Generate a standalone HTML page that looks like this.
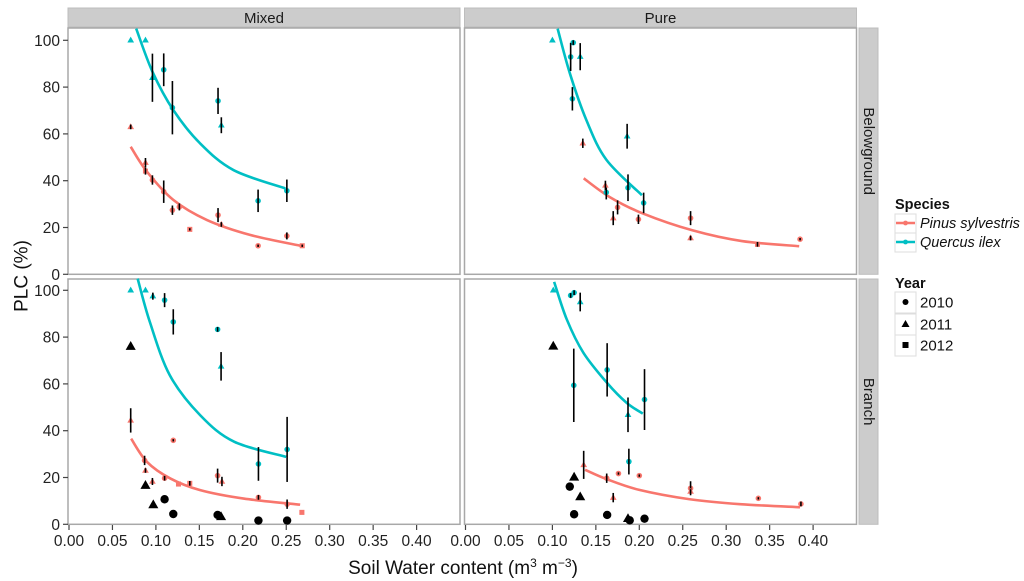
<!DOCTYPE html>
<html><head><meta charset="utf-8"><style>
body{margin:0;background:#fff;}
svg{display:block;font-family:"Liberation Sans",sans-serif;}
</style></head><body>
<svg id="chart" width="1024" height="581" viewBox="0 0 1024 581"></svg>
<script>
// ---- data ----
const panelNames = ["mixed-belowground","pure-belowground","mixed-branch","pure-branch"];
const colLabels = ["Mixed","Pure"];
const rowLabels = ["Belowground","Branch"];
const yTicks = [0,20,40,60,80,100];
const xTicks = [0,0.05,0.10,0.15,0.20,0.25,0.30,0.35,0.40];
const xTickLabels = ["0.00","0.05","0.10","0.15","0.20","0.25","0.30","0.35","0.40"];
// points: [swc, plc, err, year, species] species: P=Pinus, Q=Quercus, K=black
const mbPoints = [
 [0.071,100,0,2011,"Q"],[0.088,100,0,2011,"Q"],[0.096,84,10.3,2011,"Q"],[0.109,87.4,7,2010,"Q"],[0.119,71.2,11.4,2010,"Q"],
 [0.1715,74.1,5.6,2010,"Q"],[0.1753,63.7,3.4,2011,"Q"],[0.2176,31.4,4.8,2010,"Q"],[0.2507,35.7,4.8,2010,"Q"],
 [0.071,63,1,2011,"P"],[0.088,47.7,2,2011,"P"],[0.088,44.1,1.5,2012,"P"],[0.096,40.3,2,2010,"P"],[0.109,35.3,4.8,2010,"P"],
 [0.119,27.4,2,2010,"P"],[0.127,28.8,1.5,2010,"P"],[0.139,19.2,0.5,2012,"P"],[0.1715,25.3,3,2010,"P"],[0.1753,21.3,1,2011,"P"],
 [0.2176,12.2,0.5,2010,"P"],[0.2507,16.4,1.5,2010,"P"],[0.2684,12.2,0.5,2012,"P"]
];
const pbPoints = [
 [0.100,100,0,2011,"Q"],[0.124,99,1,2010,"Q"],[0.121,92.9,6,2010,"Q"],[0.132,93,5.8,2011,"Q"],[0.123,75,5,2010,"Q"],
 [0.186,59,5.3,2011,"Q"],[0.162,35,3,2010,"Q"],[0.187,37,5.7,2010,"Q"],[0.205,30.5,4.4,2010,"Q"],
 [0.135,56,2,2011,"P"],[0.161,38,2,2011,"P"],[0.175,28.6,3,2010,"P"],[0.170,24,3,2011,"P"],[0.199,23.5,2,2010,"P"],
 [0.259,24,3,2010,"P"],[0.259,15.5,1,2011,"P"],[0.336,12.8,1,2012,"P"],[0.385,15,0.5,2010,"P"]
];
const mrPoints = [
 [0.071,100,0,2011,"Q"],[0.088,100,0,2011,"Q"],[0.0965,97.5,1.5,2011,"Q"],[0.110,95.8,3,2010,"Q"],[0.120,86.5,5.4,2010,"Q"],
 [0.171,83.3,1,2010,"Q"],[0.175,67.5,6.1,2011,"Q"],[0.218,25.8,7.2,2010,"Q"],[0.251,32,13.9,2010,"Q"],
 [0.071,44.4,5.2,2011,"P"],[0.087,27.3,2,2010,"P"],[0.088,23,1,2011,"P"],[0.096,18.3,1.5,2011,"P"],[0.110,19.7,1,2010,"P"],
 [0.120,35.9,0.5,2010,"P"],[0.126,17.2,0,2012,"P"],[0.139,17.5,1,2012,"P"],[0.171,20.8,3,2010,"P"],[0.176,18.3,2,2011,"P"],
 [0.218,11.5,1,2010,"P"],[0.251,8.6,2,2010,"P"],[0.268,5.1,0,2012,"P"],
 [0.071,76,0,2011,"K"],[0.088,16.6,0,2011,"K"],[0.097,8.3,0,2011,"K"],[0.110,10.7,0,2010,"K"],[0.120,4.4,0,2010,"K"],
 [0.171,4,0,2010,"K"],[0.175,3.2,0,2011,"K"],[0.218,1.6,0,2010,"K"],[0.251,1.6,0,2010,"K"]
];
const prPoints = [
 [0.101,100,0,2011,"Q"],[0.121,97.8,1,2010,"Q"],[0.125,99,1,2010,"Q"],[0.132,95,4,2011,"Q"],[0.1246,59.4,15.7,2010,"Q"],
 [0.163,66,11.4,2010,"Q"],[0.187,46.8,7.4,2011,"Q"],[0.206,53.3,13,2010,"Q"],[0.188,26.8,5.5,2010,"Q"],
 [0.136,25.4,6,2011,"P"],[0.1625,19.7,2,2010,"P"],[0.176,21.7,0.5,2010,"P"],[0.170,11.4,2,2011,"P"],[0.200,20.8,0.5,2010,"P"],
 [0.259,15.4,3,2010,"P"],[0.259,14,1,2011,"P"],[0.337,11.1,0.5,2010,"P"],[0.386,8.7,1,2010,"P"],
 [0.101,76.1,0,2011,"K"],[0.125,20.1,0,2011,"K"],[0.120,16.1,0,2010,"K"],[0.132,11.7,0,2011,"K"],[0.125,4.3,0,2010,"K"],
 [0.163,4,0,2010,"K"],[0.187,2.4,0,2011,"K"],[0.189,1.7,0,2010,"K"],[0.206,2.4,0,2010,"K"]
];
// fitted curves
const mbQx=[0.0773,0.096,0.12,0.151,0.1895,0.249], mbQy=[105,86.6,70.2,55.9,44.5,36.7];
const mbPx=[0.071,0.0896,0.12,0.1588,0.2088,0.268], mbPy=[54.5,43.9,31.8,23.2,16.8,12.1];
const pbQx=[0.106,0.120,0.139,0.162,0.203], pbQy=[105,86,66,49,33.8];
const pbPx=[0.136,0.166,0.204,0.261,0.318,0.384], pbPy=[41,33,26,18.8,14.2,12];
const mrQx=[0.079,0.093,0.116,0.151,0.19,0.25], mrQy=[105,86.5,63.7,46.6,35.3,28.8];
const mrPx=[0.0715,0.0896,0.1165,0.151,0.201,0.266], mrPy=[36.6,26.7,19.6,14.6,11,8.4];
const prQx=[0.102,0.1165,0.1357,0.163,0.1855,0.204], prQy=[103.6,87.6,73.3,60.4,51.9,47.3];
const prPx=[0.1376,0.1625,0.2,0.258,0.316,0.385], prPy=[23.3,19.3,14.7,10.7,8.6,7.3];

const panelPoints=[mbPoints,pbPoints,mrPoints,prPoints];
const panelCurves=[[[mbPx,mbPy],[mbQx,mbQy]],[[pbPx,pbPy],[pbQx,pbQy]],[[mrPx,mrPy],[mrQx,mrQy]],[[prPx,prPy],[prQx,prQy]]];

// ---- layout ----
const NS="http://www.w3.org/2000/svg";
const svg=document.getElementById("chart");
const RED="#F8766D", CYAN="#00BFC4";
function mk(tag,attrs,parent,text){const e=document.createElementNS(NS,tag);for(const k in attrs)e.setAttribute(k,attrs[k]);if(text!==undefined)e.textContent=text;(parent||svg).appendChild(e);return e;}
const colX=[69,465.5], colW=392, rowTop=[28,279], rowBot=[274.3,524.3];
const XS=869;
function xScale(c,v){return colX[c]+v*XS;}
function yScale(r,v){return rowBot[r]-v*2.34;}
function smooth(pts){let d="M"+pts[0][0]+","+pts[0][1];for(let i=0;i<pts.length-1;i++){const p0=pts[Math.max(0,i-1)],p1=pts[i],p2=pts[i+1],p3=pts[Math.min(pts.length-1,i+2)];
 const c1=[p1[0]+(p2[0]-p0[0])/6,p1[1]+(p2[1]-p0[1])/6],c2=[p2[0]-(p3[0]-p1[0])/6,p2[1]-(p3[1]-p1[1])/6];
 d+=" C"+c1[0]+","+c1[1]+" "+c2[0]+","+c2[1]+" "+p2[0]+","+p2[1];}return d;}

// strips
for(let c=0;c<2;c++){
 const s=mk("rect",{x:colX[c]-1,y:8,width:colW,height:19,fill:"#cccccc",stroke:"#bdbdbd"});
 
 
 const t=mk("text",{x:colX[c]-1+colW/2,y:23,"text-anchor":"middle","font-size":"15",fill:"#1a1a1a"},null,colLabels[c]);
 
 
}
for(let r=0;r<2;r++){
 const s=mk("rect",{x:859,y:rowTop[r],width:19,height:rowBot[r]-rowTop[r],fill:"#cccccc",stroke:"#bdbdbd"});
 
 
 const cy=(rowTop[r]+rowBot[r])/2;
 const t=mk("text",{x:868.5,y:cy,"text-anchor":"middle","font-size":"15",fill:"#1a1a1a",transform:"rotate(90 868.5 "+cy+")","dominant-baseline":"central"},null,rowLabels[r]);
 
 
}

for(let p=0;p<4;p++){
 const c=p%2,r=Math.floor(p/2);
 const g=mk("g",{});
 
 
 const bg=mk("rect",{x:colX[c]-1,y:rowTop[r],width:colW,height:rowBot[r]-rowTop[r],fill:"#fff",stroke:"#a8a8a8","stroke-width":1.5},g);
 
 
 // curves
 const cols=[RED,CYAN];
 panelCurves[p].forEach((cv,i)=>{
  const pts=cv[0].map((x,k)=>[xScale(c,x),yScale(r,cv[1][k])]);
  const path=mk("path",{d:smooth(pts),fill:"none",stroke:cols[i],"stroke-width":2.6},g);
  
  
 });
 // points
 panelPoints[p].forEach(pt=>{
  const [x,y,e,yr,sp]=pt; const px=xScale(c,x),py=yScale(r,y);
  const col=sp==="P"?RED:sp==="Q"?CYAN:"#000"; const s=sp==="K"?4.2:2.8;
  let m;
  if(yr===2010) m=mk("circle",{cx:px,cy:py,r:s,fill:col},g);
  else if(yr===2011) m=mk("polygon",{points:`${px},${py-s*1.3} ${px-s*1.2},${py+s*0.8} ${px+s*1.2},${py+s*0.8}`,fill:col},g);
  else m=mk("rect",{x:px-s*0.9,y:py-s*0.9,width:s*1.8,height:s*1.8,fill:col},g);
  
  
  if(e>0){
   const eb=mk("line",{x1:px,x2:px,y1:yScale(r,y-e),y2:yScale(r,y+e),stroke:"#000","stroke-width":1.6},g);
   
   
  }
 });
}
// y axes
for(let r=0;r<2;r++){
 yTicks.forEach(v=>{
  const y=yScale(r,v);
  const tk=mk("line",{x1:63,x2:68,y1:y,y2:y,stroke:"#444","stroke-width":1.2});
  
  
  const t=mk("text",{x:60,y:y+5.5,"text-anchor":"end","font-size":"15.5",fill:"#222"},null,String(v));
  
  
 });
}
// x axes
for(let c=0;c<2;c++){
 xTicks.forEach((v,i)=>{
  const x=xScale(c,v);
  const tk=mk("line",{x1:x,x2:x,y1:525,y2:530,stroke:"#444","stroke-width":1.2});
  
  
  const t=mk("text",{x:x,y:546,"text-anchor":"middle","font-size":"15.5",fill:"#222"},null,xTickLabels[i]);
  
  
 });
}
const xt=mk("text",{x:463,y:574,"text-anchor":"middle","font-size":"19",fill:"#111"});


xt.innerHTML='Soil Water content (m<tspan dy="-7" font-size="12">3</tspan><tspan dy="7"> m</tspan><tspan dy="-7" font-size="12">−3</tspan><tspan dy="7">)</tspan>';
const yt=mk("text",{x:22,y:276,"text-anchor":"middle","font-size":"19",fill:"#111",transform:"rotate(-90 22 276)","dominant-baseline":"central"},null,"PLC (%)");



// legend
const lg=mk("g",{});


const st=mk("text",{x:895,y:209,"font-size":"14.5","font-weight":"bold",fill:"#111"},lg,"Species");


[["Pinus sylvestris",RED,223],["Quercus ilex",CYAN,242]].forEach(([n,col,y])=>{
 const b=mk("rect",{x:895,y:y-9,width:21,height:19,fill:"#fff",stroke:"#ddd"},lg);
 
 
 const l=mk("line",{x1:896,x2:915,y1:y,y2:y,stroke:col,"stroke-width":2.4},lg);
 
 
 const d=mk("circle",{cx:905.5,cy:y,r:2.4,fill:col},lg);
 
 
 const t=mk("text",{x:920,y:y+5,"font-size":"14.5","font-style":"italic",fill:"#111"},lg,n);
 
 
});
const yrt=mk("text",{x:895,y:288,"font-size":"14.5","font-weight":"bold",fill:"#111"},lg,"Year");


[["2010",302],["2011",324],["2012",345]].forEach(([n,y],i)=>{
 const b=mk("rect",{x:895,y:y-10,width:21,height:21,fill:"#fff",stroke:"#ddd"},lg);
 
 
 let m;
 if(i===0) m=mk("circle",{cx:905.5,cy:y,r:3,fill:"#000"},lg);
 else if(i===1) m=mk("polygon",{points:`905.5,${y-4} 901.5,${y+3} 909.5,${y+3}`,fill:"#000"},lg);
 else m=mk("rect",{x:902.5,y:y-3,width:6,height:6,fill:"#000"},lg);
 
 
 const t=mk("text",{x:920,y:y+5.5,"font-size":"15",fill:"#111"},lg,n);
 
 
});
</script>
</body></html>
